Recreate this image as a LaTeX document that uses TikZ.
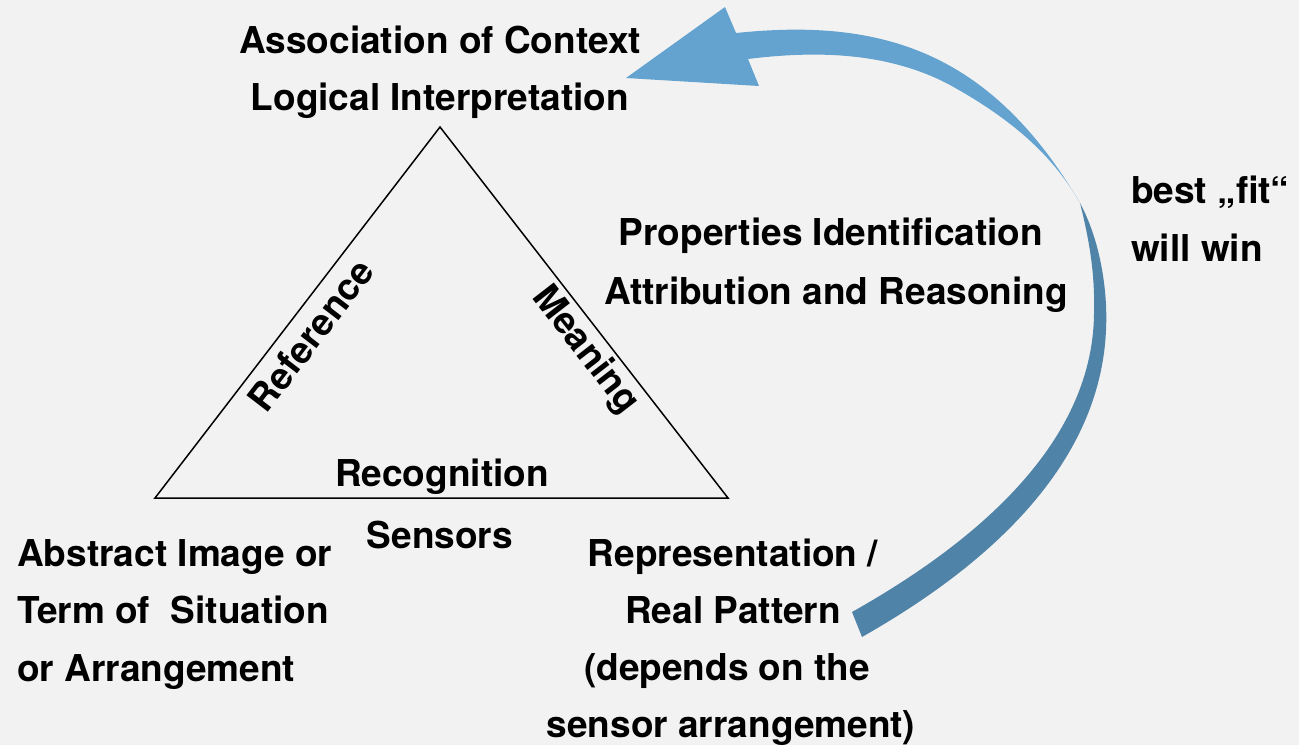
\documentclass[tikz,border=0pt]{standalone}
\usepackage{fontspec}
\setmainfont{TeX Gyre Heros}
\definecolor{bgpanel}{HTML}{F2F2F2}
\definecolor{arrowlight}{HTML}{64A3CF}
\definecolor{arrowdark}{HTML}{5083A8}
\begin{document}
\begin{tikzpicture}[x=1pt, y=-1pt,
  lbl/.style={font=\fontsize{37}{44}\selectfont\bfseries, inner sep=0pt},
  tri/.style={draw=black, line width=1.5pt, line join=miter}]
  % canvas
  \fill[bgpanel] (0,0) rectangle (1299,745);
  \useasboundingbox (0,0) rectangle (1299,745);

  % triangle corners
  \coordinate (apex) at (440,127);
  \coordinate (bl) at (155,498);
  \coordinate (br) at (728,498);

  \draw[tri] (bl) -- node[lbl, sloped, pos=0.479, anchor=north, inner sep=10pt] (ref) {Reference}
             (apex) -- node[lbl, sloped, pos=0.565, anchor=north, inner sep=4pt] (mean) {Meaning}
             (br) -- cycle;

  \node[lbl, anchor=base] (recog) at (442,486) {Recognition};
  \node[lbl, anchor=base] (sens) at (440,548) {Sensors};

  % apex labels
  \node[lbl, anchor=base] (ctxA) at (440,53) {Association of Context};
  \node[lbl, anchor=base] (ctxB) at (440,110) {Logical Interpretation};

  % right edge labels
  \node[lbl, anchor=base] (propA) at (831,245) {Properties Identification};
  \node[lbl, anchor=base] (propB) at (836,304) {Attribution and Reasoning};

  % far right
  \node[lbl, anchor=base west] (fitA) at (1131,203) {best „fit“};
  \node[lbl, anchor=base west] (fitB) at (1131,261) {will win};

  % lower left corner
  \node[lbl, anchor=base west] (absA) at (17,566) {Abstract Image or};
  \node[lbl, anchor=base west] (absB) at (17,623) {Term of\ \ Situation};
  \node[lbl, anchor=base west] (absC) at (17,681) {or Arrangement};

  % lower right corner
  \node[lbl, anchor=base] (repA) at (733,566) {Representation /};
  \node[lbl, anchor=base] (repB) at (733,623) {Real Pattern};
  \node[lbl, anchor=base] (repC) at (727,680) {(depends on the};
  \node[lbl, anchor=base] (repD) at (731,737) {sensor arrangement)};

  % curved feedback arrow: twist point, head and tail
  \coordinate (twist) at (1080,203);
  \coordinate (headTop) at (736,33);
  \coordinate (barbTop) at (725,7);
  \coordinate (tip) at (626,78);
  \coordinate (barbBot) at (759,86);
  \coordinate (headBot) at (748,59);
  \coordinate (tailOut) at (862,637);
  \coordinate (tailIn) at (852,612);

  % upper (light) part of the band with the head
  \fill[arrowlight]
    (twist) .. controls (990,50) and (880,18) .. (headTop)
    -- (barbTop) -- (tip) -- (barbBot) -- (headBot)
    .. controls (820,50) and (890,53) .. (950,85)
    .. controls (1004,115) and (1050,150) .. (twist) -- cycle;
  % lower (dark) part of the band
  \fill[arrowdark]
    (twist) .. controls (1100,240) and (1108,290) .. (1106,330)
    .. controls (1100,470) and (980,570) .. (tailOut)
    -- (tailIn)
    .. controls (980,540) and (1095,440) .. (1094,310)
    .. controls (1095,270) and (1088,235) .. (twist) -- cycle;
\end{tikzpicture}
\end{document}
